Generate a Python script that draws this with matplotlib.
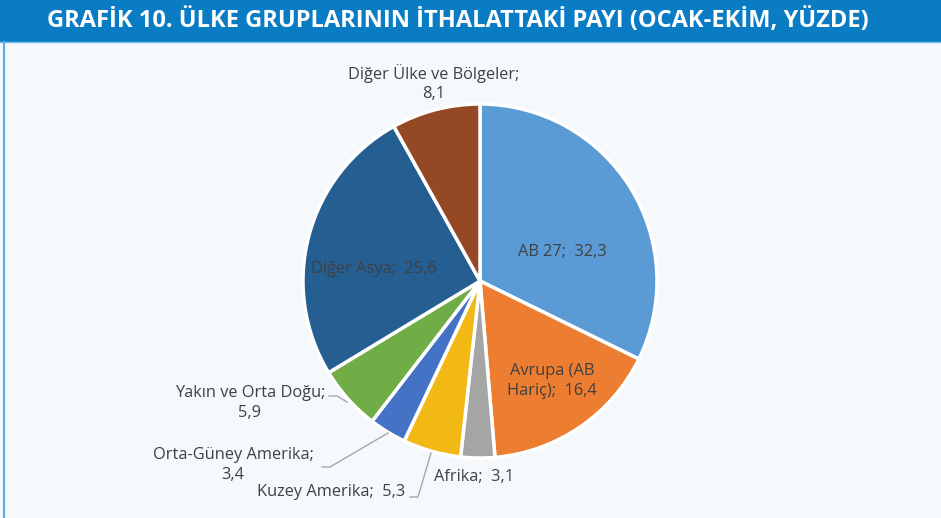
import matplotlib.pyplot as plt
from matplotlib.patches import Rectangle

# veriler
labels = ['AB 27', 'Avrupa (AB\nHariç)', 'Afrika', 'Kuzey Amerika', 'Orta-Güney Amerika',
          'Yakın ve Orta Doğu', 'Diğer Asya', 'Diğer Ülke ve Bölgeler']
values = [32.3, 16.4, 3.1, 5.3, 3.4, 5.9, 25.6, 8.1]
colors = ['#5b9bd5', '#ed7d31', '#a5a5a5', '#f2b915', '#4472c4', '#70ad47', '#255e91', '#954824']
title = 'GRAFİK 10. ÜLKE GRUPLARININ İTHALATTAKİ PAYI (OCAK-EKİM, YÜZDE)'

W, H = 941, 518
fig = plt.figure(figsize=(W / 100, H / 100), dpi=100)
fig.patch.set_facecolor('#f5f9fc')
ax = fig.add_axes([0, 0, 1, 1])

cx, cy, r = 480, H - 281, 177
ax.pie(values, colors=colors, startangle=90, counterclock=False,
       center=(cx, cy), radius=r, frame=True,
       wedgeprops=dict(edgecolor='white', linewidth=2.5))
ax.set_xlim(0, W)
ax.set_ylim(0, H)
ax.set_aspect('equal')
ax.axis('off')

# başlık bandı
ax.add_patch(Rectangle((0, H - 41), W, 41, color='#0a7cc4', zorder=1))
ax.plot([0, W], [H - 41.5, H - 41.5], color='#7fc0ea', lw=1)
ax.plot([4, 4], [0, H - 42], color='#5aaee0', lw=1.5)
ax.text(458, H - 21, title, ha='center', va='center', color='white',
        fontsize=17, fontweight='bold', family='Open Sans')

fmt = lambda v: ('%.1f' % v).replace('.', ',')
tc = '#404040'
fs = 11.8
fam = 'Open Sans'

def lab(x, y, s, ha='center'):
    ax.text(x, H - y, s, ha=ha, va='center', color=tc, fontsize=fs, family=fam,
            linespacing=1.3)

lab(562, 252, labels[0] + ';  ' + fmt(values[0]))
lab(552, 381, labels[1] + ';  ' + fmt(values[1]))
lab(474, 477, labels[2] + ';  ' + fmt(values[2]))
lab(331, 492, labels[3] + ';  ' + fmt(values[3]))
lab(233, 465, labels[4] + ';\n' + fmt(values[4]))
lab(250, 403, labels[5] + ';\n' + fmt(values[5]))
lab(374, 269, labels[6] + ';  ' + fmt(values[6]))
lab(434, 83, labels[7] + ';\n' + fmt(values[7]))

# kılavuz çizgiler
lc = '#a6a6a6'
for xs, ys in [([329, 337, 347], [396, 396, 402]),
               ([322, 330, 388], [467, 467, 433]),
               ([410, 418, 431], [497, 497, 453])]:
    ax.plot(xs, [H - y for y in ys], color=lc, lw=1)

plt.savefig('out.png', dpi=100, facecolor=fig.get_facecolor())
